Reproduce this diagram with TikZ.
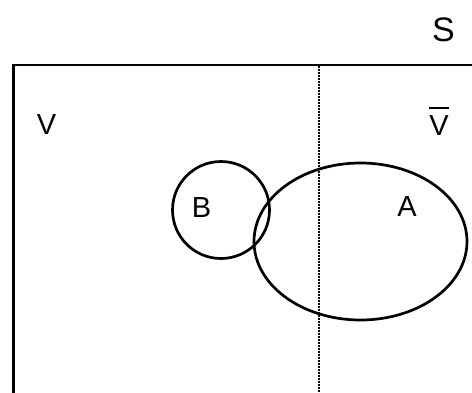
\documentclass[tikz,border=0pt]{standalone}
\usepackage{fontspec}
\setmainfont{Liberation Sans}
\usetikzlibrary{shapes.geometric}
\newcommand\barV{\setbox0\hbox{V}\rlap{\hbox to \wd0{\hss\raisebox{26pt}{\rule{\wd0}{2pt}}\hss}}V}
\begin{document}
\begin{tikzpicture}[x=1pt,y=-1pt,
  outline/.style={line width=2.8pt},
  setline/.style={line width=2.7pt},
  divider/.style={line width=1.8pt, dash pattern=on 1.6pt off 1.4pt},
  lab/.style={inner sep=0pt, font=\fontsize{29}{34}\selectfont},
  biglab/.style={inner sep=0pt, font=\fontsize{34}{40}\selectfont}]
\useasboundingbox (0,0) rectangle (472,392);
\clip (0,0) rectangle (472,392);
\coordinate (bl) at (13.5,400);
\coordinate (tl) at (13.5,65);
\coordinate (tr) at (480,65);
\coordinate (dtop) at (318.7,66);
\coordinate (dbot) at (318.7,400);
\draw[divider] (dtop) -- (dbot);
\draw[outline] (bl) -- (tl) -- (tr);
\node[setline, draw, circle, minimum size=97pt, inner sep=0pt] (B) at (221,210) {};
\node[setline, draw, ellipse, minimum width=213pt, minimum height=157pt, inner sep=0pt] (A) at (360.5,241.5) {};
\node[biglab] (S) at (443.5,29.5) {S};
\node[lab] (V) at (46.5,124.5) {V};
\node[lab, anchor=base] (Vb) at (439,135) {\barV};
\node[lab] (Bl) at (201.5,207.5) {B};
\node[lab] (Al) at (407,207) {A};
\end{tikzpicture}
\end{document}
